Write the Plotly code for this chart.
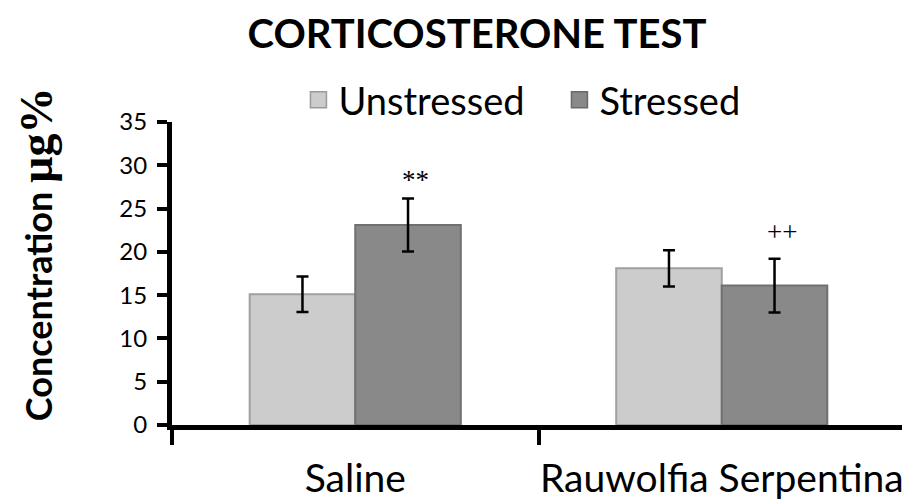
import plotly.graph_objects as go

categories = ["Saline", "Rauwolfia Serpentina"]
unstressed = [15.1, 18.1]
unstressed_err = [2.05, 2.1]
stressed = [23.1, 16.1]
stressed_err = [3.05, 3.1]
sig_labels = ["**", "++"]
sig_y = [28.3, 22.3]
yticks = [0, 5, 10, 15, 20, 25, 30, 35]

light = "#cccccc"
dark = "#898989"

# the page body has an 8px margin, so the figure is 902x492 inside the 910x500 window
W, H = 902, 492

fig = go.Figure()
fig.add_trace(go.Bar(
    name="Unstressed", x=categories, y=unstressed, showlegend=False,
    marker=dict(color=light, line=dict(color="#a0a0a0", width=2)),
    error_y=dict(type="data", array=unstressed_err, color="black", thickness=2.5, width=6),
))
fig.add_trace(go.Bar(
    name="Stressed", x=categories, y=stressed, showlegend=False,
    marker=dict(color=dark, line=dict(color="#707070", width=2)),
    error_y=dict(type="data", array=stressed_err, color="black", thickness=2.5, width=6),
))
# legend entries
fig.add_trace(go.Scatter(
    name="Unstressed", x=[None], y=[None], mode="markers",
    marker=dict(symbol="square", size=16, color=light, line=dict(color="#9a9a9a", width=1.5)),
))
fig.add_trace(go.Scatter(
    name="Stressed", x=[None], y=[None], mode="markers",
    marker=dict(symbol="square", size=16, color=dark, line=dict(color="#6a6a6a", width=1.5)),
))

for i, cat in enumerate(categories):
    fig.add_annotation(
        x=cat, y=sig_y[i], text=sig_labels[i], showarrow=False,
        xshift=60, font=dict(family="Liberation Serif", size=27, color="black"),
    )

# y axis title as rotated annotation
fig.add_annotation(
    xref="paper", yref="paper", x=-0.1855, y=0.564, textangle=-90, showarrow=False,
    xanchor="center", yanchor="middle",
    text="<b>Concentration </b><b><span style='font-family:Liberation Serif;font-size:46px'>µg%</span></b>",
    font=dict(size=36, family="Lato", color="black"),
)

fig.update_layout(
    width=W, height=H,
    barmode="group", bargap=0.424, bargroupgap=0,
    plot_bgcolor="white", paper_bgcolor="white",
    margin=dict(l=164, r=5, t=114, b=75, autoexpand=False),
    font=dict(family="Lato", color="black"),
    title=dict(text="<b>CORTICOSTERONE TEST</b>", x=0.52, xanchor="center", xref="container",
               y=0.947, yanchor="middle", yref="container",
               font=dict(size=40, family="Lato", color="black")),
    legend=dict(orientation="h", x=0.322, xanchor="left", xref="container",
                y=0.813, yanchor="middle", yref="container",
                font=dict(size=38, family="Lato", color="black"),
                itemwidth=30, entrywidth=216, entrywidthmode="pixels",
                bgcolor="rgba(0,0,0,0)"),
    showlegend=True,
)
fig.update_xaxes(
    showline=True, linecolor="black", linewidth=5,
    ticks="outside", tickson="boundaries", ticklen=15, tickwidth=4, tickcolor="black",
    tickfont=dict(size=39, family="Lato", color="black"), tickangle=0, ticklabelstandoff=15,
    showgrid=False, automargin=False,
)
fig.update_yaxes(
    range=[0, 35], tickvals=yticks, ticktext=[str(v) for v in yticks],
    showline=True, linecolor="black", linewidth=5,
    ticks="outside", ticklen=10, tickwidth=4, tickcolor="black",
    tickfont=dict(size=24, family="Lato", color="black"), ticklabelstandoff=5,
    showgrid=False, zeroline=False, automargin=False,
)
fig.write_html("out.html")
